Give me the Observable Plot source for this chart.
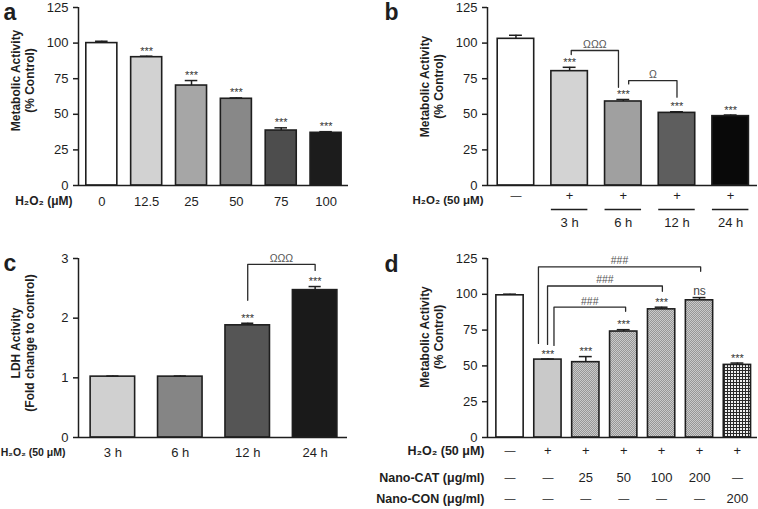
<!DOCTYPE html>
<html><head><meta charset="utf-8">
<script src="https://cdn.jsdelivr.net/npm/d3@7"></script>
<script src="https://cdn.jsdelivr.net/npm/@observablehq/plot@0.6"></script>
<style>
body{margin:0;background:#fff;}
#fig{position:relative;width:758px;height:509px;overflow:hidden;background:#fff;}
#fig svg{position:absolute;}
</style></head><body><div id="fig"></div>
<script>
// ---------- Panel a ----------
const aDoses = ["0", "12.5", "25", "50", "75", "100"];
const aValues = [100, 90.1, 70.2, 60.9, 38.6, 37.0];
const aErrors = [1.3, 0.7, 3.5, 0.6, 1.9, 0.8];
const aSig = ["", "***", "***", "***", "***", "***"];
const aYTicks = [0, 25, 50, 75, 100, 125];

// ---------- Panel b ----------
const bH2O2 = ["—", "+", "+", "+", "+"];
const bTimes = ["", "3 h", "6 h", "12 h", "24 h"];
const bValues = [103.0, 80.3, 59.0, 51.0, 48.7];
const bErrors = [2.5, 2.7, 1.4, 0.8, 0.8];
const bSig = ["", "***", "***", "***", "***"];
const bBrackets = [
  {from: 1.03, to: 1.91, level: 94.8, fromEnd: 92, toEnd: 69, label: "ΩΩΩ"},
  {from: 2.1, to: 3.0, level: 73.7, fromEnd: 71.3, toEnd: 62, label: "Ω"}
];

// ---------- Panel c ----------
const cTimes = ["3 h", "6 h", "12 h", "24 h"];
const cValues = [1.02, 1.02, 1.88, 2.47];
const cErrors = [0.01, 0.01, 0.035, 0.06];
const cSig = ["", "", "***", "***"];
const cYTicks = [0, 1, 2, 3];
const cBrackets = [
  {from: 2, to: 3, level: 2.9, fromEnd: 2.3, toEnd: 2.8, label: "ΩΩΩ"}
];

// ---------- Panel d ----------
const dH2O2 = ["—", "+", "+", "+", "+", "+", "+"];
const dNanoCAT = ["—", "—", "25", "50", "100", "200", "—"];
const dNanoCON = ["—", "—", "—", "—", "—", "—", "200"];
const dValues = [99.3, 54.4, 52.6, 74.0, 89.5, 95.8, 50.7];
const dErrors = [0.8, 0.4, 3.9, 1.3, 1.5, 1.9, 1.3];
const dSig = ["", "***", "***", "***", "***", "ns", "***"];
const dBrackets = [
  {from: 0.75, to: 5.03, level: 119.1, fromEnd: 65.7, toEnd: 116.1, label: "###"},
  {from: 0.99, to: 4.02, level: 105.8, fromEnd: 65, toEnd: 102.1, label: "###"},
  {from: 1.16, to: 3.05, level: 91.1, fromEnd: 64.3, toEnd: 88.1, label: "###"}
];

// ---------- styles ----------
const FONT = '"Liberation Sans", Arial, Helvetica, sans-serif';
const INK = "#1e1e1e";
const aFills = ["#ffffff", "#d2d2d2", "#a6a6a6", "#888888", "#4d4d4d", "#1c1c1c"];
const bFills = ["#ffffff", "#d3d3d3", "#a0a0a0", "#5e5e5e", "#090909"];
const cFills = ["#d0d0d0", "#858585", "#555555", "#1a1a1a"];
const dFills = ["#ffffff", "#c9c9c9", "url(#stipple)", "url(#stipple)", "url(#stipple)", "url(#stipple)", "url(#gridfill)"];

function patternDefs() {
  const defs = d3.create("svg:defs");
  const st = defs.append("pattern").attr("id", "stipple").attr("width", 2).attr("height", 2).attr("patternUnits", "userSpaceOnUse");
  st.append("rect").attr("width", 2).attr("height", 2).attr("fill", "#cacaca");
  st.append("rect").attr("width", 1).attr("height", 1).attr("fill", "#979797");
  st.append("rect").attr("x", 1).attr("y", 1).attr("width", 1).attr("height", 1).attr("fill", "#979797");
  const gr = defs.append("pattern").attr("id", "gridfill").attr("width", 3).attr("height", 3).attr("patternUnits", "userSpaceOnUse");
  gr.append("rect").attr("width", 3).attr("height", 3).attr("fill", "#efefef");
  gr.append("rect").attr("width", 3).attr("height", 1).attr("fill", "#2a2a2a");
  gr.append("rect").attr("width", 1).attr("height", 3).attr("fill", "#2a2a2a");
  return defs.node();
}

function panel(o) {
  const rows = o.values.map((v, i) => ({i, value: v, err: o.errors[i], sig: o.sig[i], fill: o.fills[i]}));
  const top = d => d.value + d.err;
  const marks = [];
  if (o.defs) marks.push(o.defs);
  marks.push(
    Plot.rect(rows, {x1: d => d.i - o.barHalf, x2: d => d.i + o.barHalf, y1: () => 0, y2: "value",
      fill: d => d.fill, stroke: INK, strokeWidth: 1.6}),
    Plot.ruleX(rows, {x: "i", y1: "value", y2: top, stroke: INK, strokeWidth: 1.5}),
    Plot.ruleY(rows, {y: top, x1: d => d.i - o.capHalf, x2: d => d.i + o.capHalf, stroke: INK, strokeWidth: 1.5}),
    Plot.text(rows.filter(d => d.sig === "***"), {x: "i", y: top, text: "sig", dy: -1.5, lineAnchor: "bottom", fontSize: 11, fill: "#333"}),
    Plot.text(rows.filter(d => d.sig === "ns"), {x: "i", y: top, text: "sig", dy: -3, lineAnchor: "bottom", fontSize: 12, fill: "#444"}),
    Plot.ruleX([o.xDomain[0]], {y1: () => 0, y2: () => o.yDomain[1], stroke: INK, strokeWidth: 1.5}),
    Plot.ruleY([0], {stroke: INK, strokeWidth: 1.5}),
    Plot.axisY({ticks: o.yTicks, tickFormat: d => String(d), tickSize: 5, tickPadding: 5, fontSize: 13, label: null, strokeWidth: 1.5}),
    Plot.text([o.ytitle], {frameAnchor: "left", text: d => d, rotate: -90, dx: o.ytitleDx, dy: o.ytitleDy,
      fontWeight: "bold", fontSize: o.ytitleSize, lineHeight: 1.15, textAnchor: "middle"}),
    Plot.text([o.letter], {frameAnchor: "top-left", text: d => d, dx: o.letterDx, dy: o.letterDy,
      fontWeight: "bold", fontSize: 23, textAnchor: "start", lineAnchor: "bottom"})
  );
  for (const r of o.rowLabels) {
    const labelled = r.values.map((t, i) => ({i, t})).filter(d => d.t);
    marks.push(
      Plot.text(labelled, {x: "i", y: () => 0, text: "t", dy: r.dy, fontSize: d => (d.t === "—" ? 11 : 13), lineAnchor: "middle"})
    );
    if (r.label) marks.push(
      Plot.text([r.label], {frameAnchor: "bottom-left", text: d => d, dx: o.rowLabelDx, dy: r.labelDy ?? r.dy, textAnchor: "end",
        fontWeight: "bold", fontSize: r.labelSize ?? o.rowLabelSize, lineAnchor: "middle"})
    );
  }
  if (o.underline) {
    const u = o.underline.values.map((t, i) => ({i, t})).filter(d => d.t);
    marks.push(Plot.ruleY(u, {y: () => 0, x1: d => d.i - o.barHalf, x2: d => d.i + o.barHalf, dy: o.underline.dy, stroke: INK, strokeWidth: 1.5}));
  }
  if (o.brackets) {
    const pts = o.brackets.flatMap((b, k) => [
      {k, x: b.from, y: b.fromEnd}, {k, x: b.from, y: b.level}, {k, x: b.to, y: b.level}, {k, x: b.to, y: b.toEnd}
    ]);
    marks.push(
      Plot.line(pts, {x: "x", y: "y", z: "k", stroke: "#2a2a2a", strokeWidth: 1.3}),
      Plot.text(o.brackets, {x: d => (d.from + d.to) / 2, y: "level", text: "label", dy: -2.5, lineAnchor: "bottom",
        fontSize: 10.5, fill: "#555"})
    );
  }
  const svg = Plot.plot({
    width: o.width, height: o.height,
    marginLeft: o.margin[3], marginRight: o.margin[1], marginTop: o.margin[0], marginBottom: o.margin[2],
    x: {domain: o.xDomain, axis: null},
    y: {domain: o.yDomain},
    color: {type: "identity"},
    style: {fontFamily: FONT, color: INK, background: "transparent", overflow: "visible", maxWidth: "none"},
    marks
  });
  svg.style.left = o.left + "px";
  svg.style.top = o.top + "px";
  document.getElementById("fig").appendChild(svg);
}

panel({
  left: 0, top: 0, width: 379, height: 250, margin: [7, 31, 65, 78],
  xDomain: [-0.52, 5.5], yDomain: [0, 125], yTicks: aYTicks,
  values: aValues, errors: aErrors, sig: aSig, fills: aFills,
  barHalf: 0.346, capHalf: 0.14,
  ytitle: "Metabolic Activity\n(% Control)", ytitleDx: -56, ytitleDy: -16, ytitleSize: 12,
  letter: "a", letterDx: -75, letterDy: 12,
  rowLabelDx: -6, rowLabelSize: 12,
  rowLabels: [{label: "H₂O₂ (μM)", values: aDoses, dy: 16}]
});

panel({
  left: 379, top: 0, width: 379, height: 250, margin: [7, 1, 65, 108],
  xDomain: [-0.53, 4.5], yDomain: [0, 125], yTicks: aYTicks,
  values: bValues, errors: bErrors, sig: bSig, fills: bFills,
  barHalf: 0.34, capHalf: 0.12,
  ytitle: "Metabolic Activity\n(% Control)", ytitleDx: -56, ytitleDy: -10, ytitleSize: 12,
  letter: "b", letterDx: -103, letterDy: 12,
  rowLabelDx: -4, rowLabelSize: 12,
  rowLabels: [{label: "H₂O₂ (50 μM)", values: bH2O2, dy: 10, labelDy: 15, labelSize: 11.5}, {label: "", values: bTimes, dy: 37}],
  underline: {values: bTimes, dy: 24},
  brackets: bBrackets
});

panel({
  left: 0, top: 250, width: 379, height: 259, margin: [8, 32, 72, 78],
  xDomain: [-0.51, 3.48], yDomain: [0, 3], yTicks: cYTicks,
  values: cValues, errors: cErrors, sig: cSig, fills: cFills,
  barHalf: 0.33, capHalf: 0.09,
  ytitle: "LDH Activity\n(Fold change to control)", ytitleDx: -56, ytitleDy: -5, ytitleSize: 12,
  letter: "c", letterDx: -75, letterDy: 12,
  rowLabelDx: -13, rowLabelSize: 10.5,
  rowLabels: [{label: "H₂O₂ (50 μM)", values: cTimes, dy: 15}],
  brackets: cBrackets
});

panel({
  left: 379, top: 250, width: 379, height: 259, margin: [8, 1, 72, 108],
  xDomain: [-0.594, 6.53], yDomain: [0, 125], yTicks: aYTicks,
  values: dValues, errors: dErrors, sig: dSig, fills: dFills,
  barHalf: 0.36, capHalf: 0.17,
  ytitle: "Metabolic Activity\n(% Control)", ytitleDx: -56, ytitleDy: -11, ytitleSize: 12,
  letter: "d", letterDx: -103, letterDy: 13,
  rowLabelDx: -3, rowLabelSize: 12.5,
  rowLabels: [
    {label: "H₂O₂ (50 μM)", values: dH2O2, dy: 13},
    {label: "Nano-CAT (μg/ml)", values: dNanoCAT, dy: 40},
    {label: "Nano-CON (μg/ml)", values: dNanoCON, dy: 61}
  ],
  brackets: dBrackets,
  defs: patternDefs
});
</script>
</body></html>
